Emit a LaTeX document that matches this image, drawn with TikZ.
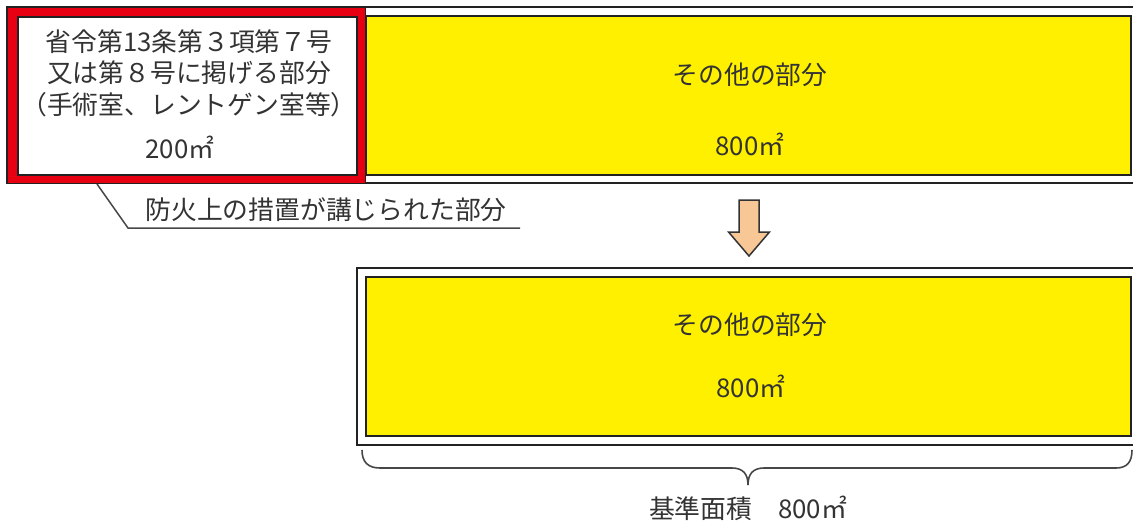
\documentclass[tikz,border=0pt]{standalone}
\usepackage{fontspec}
\setmainfont{Noto Sans CJK JP}
\definecolor{myred}{HTML}{E60012}
\definecolor{myyellow}{HTML}{FFF000}
\definecolor{myorange}{HTML}{F7C896}
\definecolor{ink}{HTML}{333333}
\definecolor{edge}{HTML}{222222}
\tikzset{
  frameline/.style={draw=edge, line width=2pt},
  yellowbox/.style={draw=edge, line width=2pt, fill=myyellow},
  lbl/.style={text=ink, font=\fontsize{25.8}{31.5}\selectfont, inner sep=0pt, align=center},
  leader/.style={draw=ink!90, line width=1.5pt},
  bracestyle/.style={draw=ink!90, line width=1.6pt},
}
\begin{document}
\begin{tikzpicture}[x=1pt,y=-1pt]
\useasboundingbox (0,0) rectangle (1133,523);
\clip (0,0) rectangle (1133,523);
\fill[white] (0,0) rectangle (1133,523);
% top outer frame and yellow area
\draw[frameline] (7,7) rectangle (1150,183);
\draw[yellowbox] (366,16) rectangle (1131,175);
% red-bordered box
\draw[draw=edge, line width=1pt, fill=myred] (7.5,7.5) rectangle (365.5,183.5);
\draw[frameline, fill=white] (18,17) rectangle (357,175);
\node[lbl] (law) at (189,73) {省令第13条第３項第７号\\又は第８号に掲げる部分\\（手術室、レントゲン室等）};
\node[lbl] (a200) at (180,147) {200㎡};
\node[lbl] (oth1) at (750,75) {その他の部分};
\node[lbl] (a800a) at (750,144) {800㎡};
% callout leader
\coordinate (c0) at (97,184);
\coordinate (c1) at (128,228);
\coordinate (c2) at (520,228);
\node[lbl, anchor=center] (fire) at (326,210) {防火上の措置が講じられた部分};
\draw[leader] (c0) -- (c1) -- (c2);
% down arrow
\draw[draw=ink, line width=1.5pt, fill=myorange, line join=miter]
  (739,200) -- (759,200) -- (759,232) -- (769.5,232) -- (749,256) -- (728.5,232) -- (739,232) -- cycle;
% lower box
\draw[frameline] (357,268) rectangle (1150,445);
\draw[yellowbox] (366,277) rectangle (1131,436);
\node[lbl] (oth2) at (750,325) {その他の部分};
\node[lbl] (a800b) at (751,386) {800㎡};
% brace
\draw[bracestyle] (362,450) .. controls (362,462) and (368,468) .. (380,468) -- (732,468)
  .. controls (743,468) and (748,474) .. (748,485)
  .. controls (748,474) and (753,468) .. (764,468) -- (1116,468)
  .. controls (1127,468) and (1132,462) .. (1132,450);
\node[lbl] (base) at (748,508) {基準面積　800㎡};
\end{tikzpicture}
\end{document}
